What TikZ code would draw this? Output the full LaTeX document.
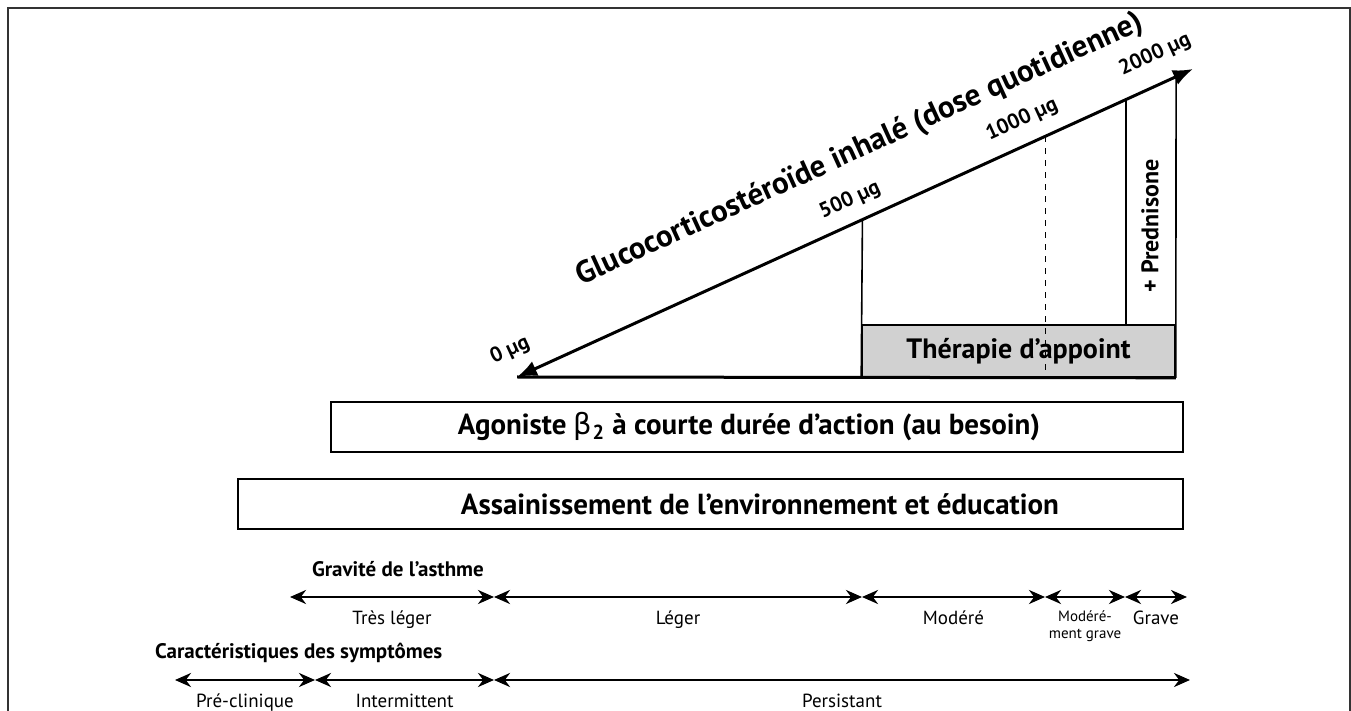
\documentclass[tikz,border=0pt]{standalone}
\usepackage{fontspec}
\setmainfont{PT Sans}
\newfontfamily\grkfont{DejaVu Sans}
\usetikzlibrary{arrows.meta,calc,positioning}

\begin{document}
\begin{tikzpicture}[x=0.5pt, y=-0.5pt,
    thinline/.style={line width=0.8pt},
    axisline/.style={line width=1.5pt},
    band/.style={draw, line width=1.2pt, inner sep=0pt, minimum height=25pt},
    bandtext/.style={font=\bfseries\fontsize{14.5}{16}\selectfont},
    sev/.style={{Stealth[length=8pt,width=7pt]}-{Stealth[length=8pt,width=7pt]}, line width=1.4pt},
    dose/.style={rotate=24.5, font=\bfseries\fontsize{10.5}{12}\selectfont},
    lab/.style={font=\fontsize{9.5}{10}\selectfont, below=3pt},
    head/.style={anchor=west, font=\bfseries\fontsize{10.5}{12}\selectfont}]
    \useasboundingbox (0,0) rectangle (1351,711);

    % frame
    \draw[line width=1pt, black!80] (8,711) -- (8,8) -- (1350,8) -- (1350,711);

    % dose triangle
    \coordinate (o) at (517,377);
    \coordinate (tip) at (1193,69);
    \coordinate (d500) at ($(o)!0.511!(tip)$);
    \coordinate (d1000) at ($(o)!0.782!(tip)$);
    \coordinate (dpred) at ($(o)!0.901!(tip)$);
    \coordinate (d2000) at ($(o)!0.975!(tip)$);
    \node[draw, thinline, fill=black!18, inner sep=0pt, minimum width=156.5pt, minimum height=26pt,
        font=\bfseries\fontsize{14}{15}\selectfont] (appoint) at (1018.5,351) {Thérapie d’appoint};
    \draw[thinline] (d500) -- (appoint.south west);
    \draw[thinline] (dpred) -- (dpred |- appoint.north);
    \draw[thinline] (d2000) -- (appoint.south east);
    \draw[thinline, dashed] (d1000) -- (d1000 |- appoint.south);
    \draw[axisline] (o) -- (appoint.south east);
    \draw[axisline, {Latex[length=10pt,width=8pt]}-{Latex[length=10pt,width=8pt]}] (o) -- (tip);
    \node[dose] (zero) at (510,350) {0 µg};
    \node[dose] (l500) at (850,200) {500 µg};
    \node[dose] (l1000) at (1022,120) {1000 µg};
    \node[dose] (l2000) at (1155,55) {2000 µg};
    \node[rotate=24.5, font=\bfseries\fontsize{15.5}{17}\selectfont] (title) at (860,150)
        {Glucocorticostéroïde inhalé (dose quotidienne)};
    \node[rotate=90, font=\bfseries\fontsize{12}{13}\selectfont] (pred) at (1150,226) {+ Prednisone};

    % bands
    \node[band, minimum width=426pt] (agon) at (757,427) {};
    \node[bandtext] (agontxt) at (749,427)
        {Agoniste {\grkfont\mdseries β}\textsubscript{2} à courte durée d’action (au besoin)};
    \node[band, minimum width=472.5pt] (env) at (710.5,504) {};
    \node[bandtext] (envtxt) at (760,504) {Assainissement de l’environnement et éducation};

    % gravite
    \node[head] (grav) at (305,569) {Gravité de l’asthme};
    \foreach \n/\x in {a0/290, a1/494, a2/862, a3/1045, a4/1125, a5/1187}
        \coordinate (\n) at (\x,597);
    \draw[sev] (a0) -- (a1) node[lab, midway] {Très léger};
    \draw[sev] (a1) -- (a2) node[lab, midway] {Léger};
    \draw[sev] (a2) -- (a3) node[lab, midway] {Modéré};
    \draw[sev] (a3) -- (a4) node[lab, midway, align=center, font=\fontsize{7.5}{8.5}\selectfont] {Modéré-\\ment grave};
    \draw[sev] (a4) -- (a5) node[lab, midway] {Grave};

    % symptomes
    \node[head] (symp) at (148,653) {Caractéristiques des symptômes};
    \foreach \n/\x in {b0/175, b1/315, b2/494, b3/1190}
        \coordinate (\n) at (\x,680);
    \draw[sev] (b0) -- (b1) node[lab, midway] {Pré-clinique};
    \draw[sev] (b1) -- (b2) node[lab, midway] {Intermittent};
    \draw[sev] (b2) -- (b3) node[lab, midway] {Persistant};
\end{tikzpicture}
\end{document}
